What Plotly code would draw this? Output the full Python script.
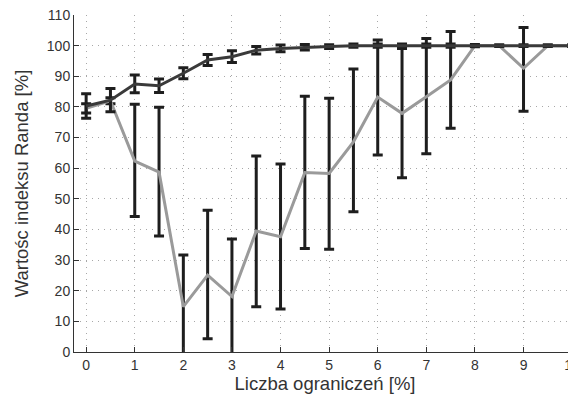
import plotly.graph_objects as go

x_vals = [0, 0.5, 1, 1.5, 2, 2.5, 3, 3.5, 4, 4.5, 5, 5.5, 6, 6.5, 7, 7.5, 8, 8.5, 9, 9.5, 10]

dark_mean = [80.3, 82.2, 87.5, 86.9, 91.0, 95.3, 96.4, 98.5, 99.1, 99.5, 99.7, 100, 100, 100, 100, 100, 100, 100, 100, 100, 100]
dark_err = [4.0, 3.8, 2.9, 2.2, 1.8, 1.8, 1.9, 1.2, 1.1, 0.9, 0.6, 0.5, 0.5, 0.5, 0.5, 0.5, 0.4, 0.3, 0.3, 0.3, 0.3]

gray_mean = [79.5, 82.0, 62.3, 58.7, 14.8, 25.1, 18.1, 39.5, 37.6, 58.6, 58.3, 68.6, 83.2, 77.9, 83.3, 88.8, 100, 100, 92.6, 100, 100]
gray_upper = [81, 83, 80.9, 79.9, 31.7, 46.3, 36.9, 64.0, 61.4, 83.5, 82.8, 92.4, 101.8, 99.1, 102.3, 104.6, 100, 100, 105.9, 100, 100]
gray_lower = [78, 81, 44.2, 37.9, -3, 4.3, -3, 14.8, 14.0, 33.8, 33.5, 45.8, 64.3, 56.9, 64.7, 73.0, 100, 100, 78.6, 100, 100]

y_ticks = [0, 10, 20, 30, 40, 50, 60, 70, 80, 90, 100, 110]
x_ticks = [0, 1, 2, 3, 4, 5, 6, 7, 8, 9, 10]

gray_plus = [u - m for u, m in zip(gray_upper, gray_mean)]
gray_minus = [m - l for m, l in zip(gray_mean, gray_lower)]

fig = go.Figure()
fig.add_trace(go.Scatter(
    x=x_vals, y=gray_mean, mode="lines",
    line=dict(color="#9a9a9a", width=3),
    error_y=dict(type="data", array=gray_plus, arrayminus=gray_minus,
                 color="#1e1e1e", thickness=3, width=5, symmetric=False),
    showlegend=False,
))
fig.add_trace(go.Scatter(
    x=x_vals, y=dark_mean, mode="lines",
    line=dict(color="#3a3a3a", width=3),
    error_y=dict(type="data", array=dark_err, color="#1e1e1e", thickness=3, width=5),
    showlegend=False,
))

font_family = "Liberation Sans, Arial, sans-serif"
grid_style = dict(showgrid=True, gridcolor="#a8a8a8", griddash="1px,5px", gridwidth=1)
fig.update_layout(
    width=568, height=390,
    margin=dict(l=66, r=0, t=7, b=46),
    paper_bgcolor="white", plot_bgcolor="white",
    font=dict(family=font_family, color="#333333", size=14),
    xaxis=dict(
        range=[-0.25, 10.08], tickvals=x_ticks, automargin=False,
        ticklabeloverflow="allow",
        ticks="inside", ticklen=5, tickcolor="#333",
        showline=True, linecolor="#333", linewidth=1,
        zeroline=False,
        title=dict(text="Liczba ograniczeń [%]", font=dict(size=18.5), standoff=4),
        tickfont=dict(size=14),
        **grid_style,
    ),
    yaxis=dict(
        range=[0, 110], tickvals=y_ticks, automargin=False,
        ticklabeloverflow="allow",
        ticks="inside", ticklen=5, tickcolor="#333",
        showline=True, linecolor="#333", linewidth=1,
        zeroline=False,
        title=dict(text="Wartośc indeksu Randa [%]", font=dict(size=18.5), standoff=13),
        tickfont=dict(size=14),
        **grid_style,
    ),
)

fig.write_html("out.html")
